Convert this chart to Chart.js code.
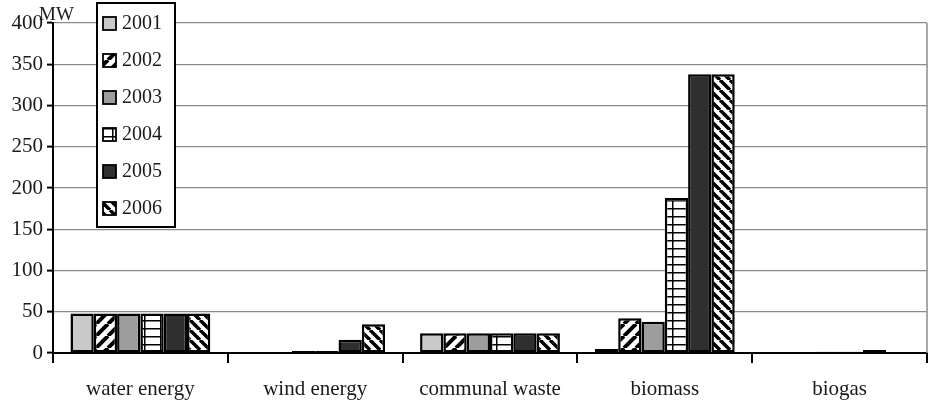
<!DOCTYPE html>
<html>
<head>
<meta charset="utf-8">
<script src="https://cdn.jsdelivr.net/npm/chart.js@4/dist/chart.umd.min.js"></script>
<style>
  html, body { margin: 0; padding: 0; background: #fff; }
  #wrap { width: 930px; height: 405px; }
</style>
</head>
<body>
<div id="wrap"><canvas id="chart"></canvas></div>
<script>
// ----- DATA -----
const categories = ['water energy', 'wind energy', 'communal waste', 'biomass', 'biogas'];
const years = ['2001', '2002', '2003', '2004', '2005', '2006'];
const v2001 = [48, 0, 24, 5, 0];
const v2002 = [48, 1, 24, 42, 0.5];
const v2003 = [48, 2.5, 24, 38, 1.5];
const v2004 = [48, 2.5, 24, 188, 1.5];
const v2005 = [48, 16, 24, 338, 3.5];
const v2006 = [48, 35, 24, 338, 0];
const yTicks = [0, 50, 100, 150, 200, 250, 300, 350, 400];
const unitLabel = 'MW';

// ----- PATTERNS -----
function stripes(dir, size, lw) {
  const c = document.createElement('canvas');
  c.width = size; c.height = size;
  const g = c.getContext('2d');
  g.fillStyle = '#fff';
  g.fillRect(0, 0, size, size);
  g.strokeStyle = '#000';
  g.lineWidth = lw;
  g.beginPath();
  for (let k = -1; k <= 1; k++) {
    const o = k * size;
    if (dir === '/') { g.moveTo(o, size); g.lineTo(o + size, 0); }
    else { g.moveTo(o, 0); g.lineTo(o + size, size); }
  }
  g.stroke();
  return g.createPattern(c, 'repeat');
}
function grid() {
  const c = document.createElement('canvas');
  c.width = 16; c.height = 8;
  const g = c.getContext('2d');
  g.fillStyle = '#fff';
  g.fillRect(0, 0, 16, 8);
  g.fillStyle = '#000';
  g.fillRect(0, 0, 16, 1.5);
  g.fillRect(0, 0, 1.5, 8);
  return g.createPattern(c, 'repeat');
}
const fills = ['#c9c9c9', stripes('/', 12, 4), '#9d9d9d', grid(), '#2f2f2f', stripes('\\', 10, 3.5)];
const series = [v2001, v2002, v2003, v2004, v2005, v2006];

// ----- PLUGINS -----
const extras = {
  id: 'extras',
  afterDraw(chart) {
    const ctx = chart.ctx;
    const a = chart.chartArea;
    ctx.save();
    // right border
    ctx.strokeStyle = '#8c8c8c';
    ctx.lineWidth = 1.5;
    ctx.beginPath();
    ctx.moveTo(a.right, a.top);
    ctx.lineTo(a.right, a.bottom);
    ctx.stroke();
    // unit label
    ctx.fillStyle = '#1a1a1a';
    ctx.font = '19px "Liberation Serif"';
    ctx.textAlign = 'left';
    ctx.textBaseline = 'middle';
    ctx.fillText(unitLabel, a.left - 14, a.top - 8);
    // legend box
    const lx = a.left + 44, ly = a.top - 20, lw = 78, lh = 224;
    ctx.fillStyle = '#fff';
    ctx.fillRect(lx, ly, lw, lh);
    ctx.strokeStyle = '#000';
    ctx.lineWidth = 2;
    ctx.strokeRect(lx, ly, lw, lh);
    ctx.font = '20px "Liberation Serif"';
    chart.data.datasets.forEach((ds, i) => {
      const cy = ly + 20 + i * 37;
      ctx.fillStyle = ds.backgroundColor;
      ctx.fillRect(lx + 6, cy - 6, 13, 13);
      ctx.lineWidth = 1.8;
      ctx.strokeRect(lx + 6, cy - 6, 13, 13);
      ctx.fillStyle = '#1a1a1a';
      ctx.fillText(ds.label, lx + 25, cy + 1);
    });
    ctx.restore();
  }
};

// ----- CHART -----
new Chart(document.getElementById('chart'), {
  type: 'bar',
  data: {
    labels: categories,
    datasets: years.map((y, i) => ({
      label: y,
      data: series[i],
      backgroundColor: fills[i],
      borderColor: '#000',
      borderWidth: 2.5,
      borderSkipped: false,
      categoryPercentage: 0.8,
      barPercentage: 1.0
    }))
  },
  options: {
    responsive: true,
    maintainAspectRatio: false,
    animation: false,
    layout: { padding: { top: 23, right: 3, left: 0, bottom: 0 } },
    plugins: { legend: { display: false }, tooltip: { enabled: false } },
    scales: {
      x: {
        offset: true,
        grid: { offset: true, drawOnChartArea: false, tickLength: 10, color: '#000', lineWidth: 2 },
        border: { color: '#000', width: 2 },
        ticks: { color: '#1a1a1a', padding: 14, font: { family: 'Liberation Serif', size: 21 } },
        afterFit(s) { s.height = 52; }
      },
      y: {
        min: 0, max: 400,
        afterBuildTicks(s) { s.ticks = yTicks.map(v => ({ value: v })); },
        grid: { color: '#8c8c8c', lineWidth: 1.2, tickLength: 6, tickColor: '#000', tickWidth: 2 },
        border: { color: '#000', width: 2 },
        ticks: { color: '#1a1a1a', padding: 4, font: { family: 'Liberation Serif', size: 21 } },
        afterFit(s) { s.width = 53; }
      }
    }
  },
  plugins: [extras]
});
</script>
</body>
</html>
